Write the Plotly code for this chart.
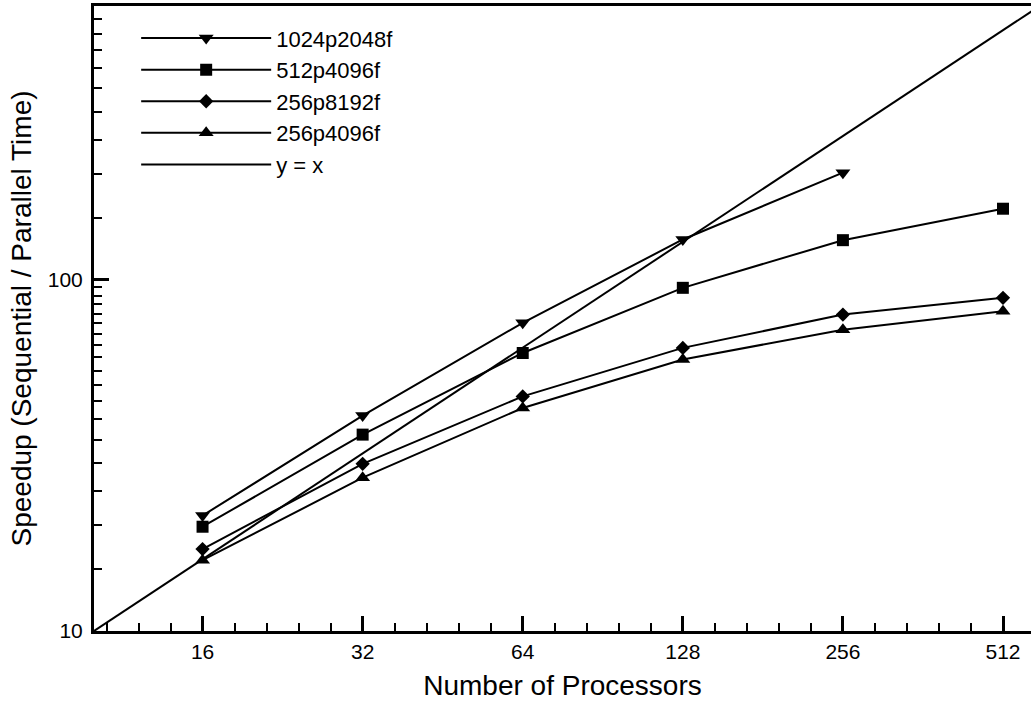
import numpy as np
import plotly.graph_objects as go

procs = [16, 32, 64, 128, 256, 512]
s_1024p2048f = [21.3, 41.0, 75.3, 130.0, 201.4]
s_512p4096f = [19.8, 36.2, 61.8, 94.7, 129.4, 159.0]
s_256p8192f = [17.1, 29.9, 46.5, 63.9, 79.5, 88.7]
s_256p4096f = [15.9, 27.3, 43.1, 59.2, 72.0, 81.2]
ideal_x = [10, 600]

x_ticks = [16, 32, 64, 128, 256, 512]
y_ticks = [10, 100]

FONT = "Liberation Sans, Arial, Helvetica, sans-serif"

fig = go.Figure()

series = [
    ("1024p2048f", procs[:5], s_1024p2048f, "triangle-down", 13),
    ("512p4096f", procs, s_512p4096f, "square", 12),
    ("256p8192f", procs, s_256p8192f, "diamond", 11),
    ("256p4096f", procs, s_256p4096f, "triangle-up", 13),
]
for name, xs, ys, sym, sz in series:
    fig.add_trace(go.Scatter(
        x=xs, y=ys, mode="lines+markers", name=name,
        line=dict(color="black", width=2),
        marker=dict(symbol=sym, size=sz, color="black"),
    ))

fig.add_trace(go.Scatter(
    x=ideal_x, y=ideal_x, mode="lines", name="y = x",
    line=dict(color="black", width=2),
))

# minor tick values
x_minor = [2 ** (n + 0.2 * j) for n in range(3, 10) for j in range(1, 5)]
y_minor = [v for v in range(15, 100, 5)] + [v for v in range(150, 601, 50)]

fig.update_layout(
    width=1031, height=702,
    margin=dict(l=94, r=0, t=6, b=71),
    paper_bgcolor="white", plot_bgcolor="white",
    font=dict(family=FONT, color="black", size=22),
    showlegend=True,
    legend=dict(
        x=0.045, y=0.982, xanchor="left", yanchor="top",
        bgcolor="rgba(0,0,0,0)", itemwidth=130,
        font=dict(size=22, family=FONT), tracegroupgap=0,
    ),
    xaxis=dict(
        type="log", range=[1, np.log10(578)],
        tickmode="array", tickvals=x_ticks, ticktext=[str(v) for v in x_ticks],
        ticks="inside", ticklen=15, tickwidth=3, tickcolor="black",
        showline=True, linewidth=3, linecolor="black", mirror=True,
        showgrid=False, zeroline=False,
        tickfont=dict(size=21, family=FONT), ticklabelstandoff=0,
        title=dict(text="Number of Processors", font=dict(size=28, family=FONT), standoff=14),
        minor=dict(tickmode="array", tickvals=x_minor, ticks="inside",
                   ticklen=8, tickwidth=2, tickcolor="black", showgrid=False),
    ),
    yaxis=dict(
        type="log", range=[1, np.log10(600)],
        tickmode="array", tickvals=y_ticks, ticktext=[str(v) for v in y_ticks],
        ticks="inside", ticklen=15, tickwidth=3, tickcolor="black",
        showline=True, linewidth=3, linecolor="black", mirror=False,
        showgrid=False, zeroline=False,
        tickfont=dict(size=21, family=FONT), ticklabelstandoff=4,
        title=dict(text="Speedup (Sequential / Parallel Time)", font=dict(size=28, family=FONT), standoff=8),
        minor=dict(tickmode="array", tickvals=y_minor, ticks="inside",
                   ticklen=8, tickwidth=2, tickcolor="black", showgrid=False),
    ),
)

fig.write_html("out.html")
